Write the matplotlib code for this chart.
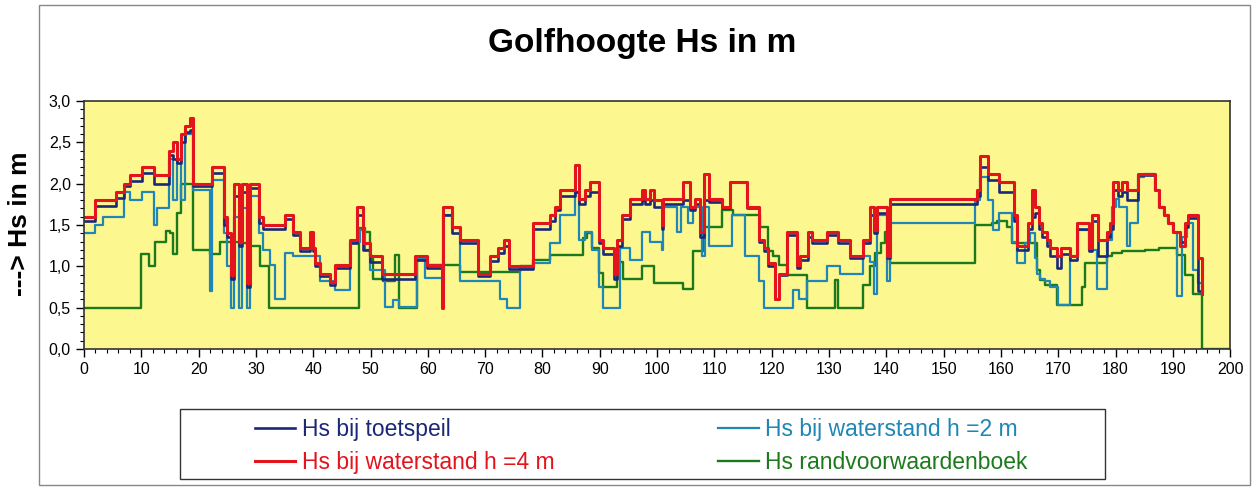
import matplotlib
matplotlib.use("Agg")
from matplotlib import pyplot as plt
from matplotlib.patches import Rectangle
from matplotlib.ticker import MultipleLocator

# section starts (km) shared by toetspeil and h=4 m, with their Hs values
x_tp = [0.0, 2.0, 5.5, 7.0, 8.1, 10.2, 12.2, 14.8, 15.6, 16.3, 17.0, 17.6, 18.5, 19.1,
        21.9, 22.3, 24.4, 24.9, 25.6, 26.2, 27.1, 27.6, 28.5, 29.0, 30.5, 31.3, 35.1,
        36.5, 37.7, 39.4, 39.9, 40.3, 41.2, 43.0, 43.8, 46.4, 47.7, 48.6, 49.9, 52.0,
        57.8, 59.8, 62.4, 62.7, 64.2, 65.6, 68.8, 70.9, 72.3, 73.2, 74.1, 78.4, 81.3,
        82.2, 83.1, 85.7, 86.4, 87.4, 88.3, 89.8, 90.6, 92.4, 93.0, 93.8, 95.3, 97.3,
        97.9, 98.8, 99.4, 100.8, 101.1, 104.6, 105.8, 106.6, 107.5, 108.1, 109.0, 111.3,
        112.7, 115.7, 117.7, 118.6, 119.4, 120.6, 121.2, 122.6, 124.4, 125.0, 126.4,
        127.0, 129.6, 131.6, 133.7, 136.0, 137.2, 137.8, 138.3, 140.1, 140.7, 155.8,
        156.4, 157.8, 159.6, 162.2, 162.8, 164.8, 165.4, 166.0, 166.6, 167.1, 168.0,
        168.6, 169.8, 170.4, 172.1, 173.2, 175.3, 175.9, 177.0, 178.5, 179.1, 179.6,
        180.5, 181.1, 182.0, 184.0, 186.9, 187.5, 188.4, 189.2, 190.1, 191.3, 192.1,
        192.7, 194.4, 195.1]

hs_h4 = [1.60, 1.80, 1.90, 2.00, 2.10, 2.20, 2.10, 2.40, 2.50, 2.30, 2.60, 2.70, 2.80, 2.00,
         2.00, 2.20, 1.60, 1.40, 0.90, 2.00, 1.30, 2.00, 0.80, 2.00, 1.60, 1.50, 1.62,
         1.42, 1.22, 1.42, 1.22, 1.04, 0.91, 0.81, 1.02, 1.32, 1.72, 1.28, 1.12, 0.91,
         1.12, 1.02, 0.50, 1.72, 1.48, 1.32, 0.91, 1.12, 1.22, 1.32, 1.00, 1.52, 1.62,
         1.72, 1.92, 2.22, 1.82, 1.92, 2.02, 1.32, 1.22, 0.91, 1.32, 1.62, 1.82, 1.92,
         1.82, 1.92, 1.80, 1.50, 1.82, 2.02, 1.72, 1.82, 1.42, 2.12, 1.82, 1.72,
         2.02, 1.72, 1.32, 1.22, 1.04, 0.61, 0.91, 1.42, 1.02, 1.12, 1.42,
         1.32, 1.42, 1.32, 1.12, 1.32, 1.72, 1.44, 1.72, 1.12, 1.82, 1.92,
         2.33, 2.12, 2.02, 1.62, 1.24, 1.52, 1.92, 1.72, 1.52, 1.42, 1.32,
         1.22, 1.12, 1.22, 1.12, 1.52, 1.22, 1.62, 1.32, 1.42, 1.52, 2.02,
         1.92, 2.02, 1.92, 2.12, 1.92, 1.72, 1.62, 1.52, 1.42, 1.24, 1.52,
         1.62, 1.10, 0.67]

hs_toets = [1.55, 1.73, 1.83, 1.97, 2.03, 2.13, 2.00, 2.35, 2.30, 2.25, 2.50, 2.62, 2.65, 1.97,
            1.97, 2.13, 1.50, 1.35, 0.85, 1.85, 1.25, 1.90, 0.75, 1.95, 1.52, 1.45, 1.57,
            1.38, 1.18, 1.35, 1.18, 1.00, 0.88, 0.78, 0.98, 1.28, 1.62, 1.20, 1.05, 0.85,
            1.08, 0.98, 0.60, 1.62, 1.40, 1.28, 0.88, 1.06, 1.16, 1.25, 0.97, 1.45, 1.55,
            1.68, 1.85, 1.90, 1.75, 1.85, 1.90, 1.28, 1.15, 0.85, 1.25, 1.57, 1.76, 1.80,
            1.76, 1.80, 1.72, 1.45, 1.76, 1.80, 1.68, 1.76, 1.35, 1.80, 1.78, 1.70,
            2.02, 1.70, 1.30, 1.18, 1.00, 0.61, 0.90, 1.38, 0.98, 1.08, 1.35,
            1.28, 1.38, 1.28, 1.10, 1.28, 1.62, 1.40, 1.65, 1.10, 1.75, 1.85,
            2.20, 2.05, 1.90, 1.55, 1.20, 1.45, 1.60, 1.65, 1.45, 1.35, 1.25,
            1.12, 0.98, 1.15, 1.08, 1.45, 1.18, 1.55, 1.12, 1.35, 1.45, 1.92,
            1.85, 1.90, 1.80, 2.10, 1.92, 1.72, 1.62, 1.52, 1.42, 1.30, 1.48,
            1.58, 0.70, 0.67]

x_h2 = [0.0, 2.0, 3.3, 7.0, 8.1, 10.2, 12.2, 12.8, 14.8, 15.6, 16.3, 17.0, 17.6, 19.1,
        21.9, 22.3, 24.4, 24.9, 25.6, 26.2, 27.1, 27.6, 28.5, 29.0, 30.5, 31.3, 32.5,
        33.3, 35.1, 36.5, 41.2, 43.8, 46.4, 48.2, 49.0, 49.9, 52.5, 54.0, 54.9, 58.1,
        59.5, 62.7, 64.2, 65.6, 72.6, 73.8, 76.1, 78.4, 81.3, 83.1, 85.7, 86.4, 87.4,
        88.6, 89.8, 90.6, 93.5, 95.3, 97.3, 98.8, 100.8, 101.1, 103.4, 104.2, 105.4,
        106.3, 107.8, 108.4, 109.0, 113.0, 115.4, 117.7, 118.6, 123.8, 124.7, 126.1,
        129.6, 131.9, 136.0, 137.2, 137.8, 138.3, 140.1, 140.7, 155.5, 156.4, 157.8,
        158.7, 159.6, 162.0, 162.8, 164.2, 165.0, 166.0, 166.3, 166.8, 167.7, 168.6,
        170.0, 172.1, 173.5, 175.3, 176.7, 178.5, 179.4, 180.0, 180.6, 182.0, 182.6,
        184.0, 185.0, 186.9, 187.5, 188.4, 189.2, 190.1, 190.7, 191.6, 192.5, 193.6,
        194.4, 195.1]

hs_h2 = [1.40, 1.50, 1.60, 1.90, 1.80, 1.90, 1.50, 1.70, 2.30, 1.80, 2.30, 1.80, 2.60, 1.92,
         0.70, 2.05, 1.40, 1.00, 0.50, 1.60, 0.50, 1.70, 0.50, 1.85, 1.40, 1.20, 1.02,
         0.61, 1.16, 1.12, 0.82, 0.71, 1.30, 1.44, 1.20, 0.96, 0.51, 0.59, 0.51, 1.10,
         0.86, 1.62, 1.46, 0.82, 0.61, 0.50, 0.98, 1.04, 1.28, 1.62, 1.90, 1.32, 1.42,
         1.20, 0.75, 0.50, 1.22, 1.08, 1.42, 1.30, 1.20, 1.72, 1.42, 1.72, 1.52,
         1.72, 1.12, 1.72, 1.24, 1.62, 1.12, 0.82, 0.50, 0.71, 0.60, 0.82,
         1.00, 0.91, 1.12, 1.05, 0.67, 1.62, 0.82, 1.52, 1.80, 2.08, 1.80,
         1.44, 1.64, 1.30, 1.04, 1.28, 1.40, 1.10, 0.91, 0.85, 0.82, 0.75,
         0.53, 1.12, 1.44, 1.20, 0.73, 1.32, 1.72, 1.82, 1.72, 1.24, 1.52,
         2.08, 2.12, 1.92, 1.72, 1.62, 1.52, 1.42, 0.64, 1.36, 1.52, 0.95,
         0.80, 0.67]

x_rvw = [0.0, 10.0, 11.3, 12.3, 14.3, 15.0, 15.5, 16.3, 17.0, 19.1, 22.0, 23.7, 27.2, 29.0,
         30.7, 32.2, 47.9, 49.0, 49.9, 50.5, 52.2, 54.3, 54.9, 58.1, 59.8, 65.6, 76.1,
         78.4, 81.3, 87.1, 87.7, 88.6, 89.8, 90.6, 93.0, 94.0, 97.3, 99.4, 104.6, 106.3,
         108.1, 111.3, 113.3, 118.0, 119.4, 120.3, 121.2, 122.6, 126.1, 131.1, 131.6,
         136.0, 137.2, 138.1, 139.0, 139.8, 140.7, 155.5, 158.4, 159.3, 161.0, 161.9,
         166.3, 166.8, 167.7, 169.8, 174.1, 174.7, 178.5, 179.4, 181.1, 185.2, 187.5,
         190.7, 192.1, 193.6, 195.1, 200.0]

hs_rvw = [0.50, 1.15, 1.00, 1.30, 1.43, 1.40, 1.15, 1.65, 2.00, 1.20, 1.15, 1.30, 1.28, 1.24,
          1.00, 0.50, 1.46, 1.42, 1.12, 0.85, 0.82, 1.14, 0.50, 1.08, 1.02, 0.93, 1.00,
          1.08, 1.14, 1.34, 1.40, 1.22, 0.92, 0.75, 1.05, 0.85, 1.00, 0.80, 0.73, 1.18,
          1.48, 1.68, 1.62, 1.48, 1.18, 1.12, 1.02, 0.90, 0.50, 0.83, 0.50,
          0.77, 1.00, 1.16, 1.28, 1.42, 1.04, 1.50, 1.52, 1.55, 1.48, 1.28,
          0.96, 0.83, 0.77, 0.53, 0.75, 1.04, 1.12, 1.16, 1.18, 1.20, 1.22,
          1.14, 0.90, 0.67, 0.00, 0.00]

ytick_vals = [0.0, 0.5, 1.0, 1.5, 2.0, 2.5, 3.0]
ytick_labels = ["0,0", "0,5", "1,0", "1,5", "2,0", "2,5", "3,0"]
xtick_vals = list(range(0, 201, 10))

c_toets = "#1b2878"
c_h2 = "#1f86b6"
c_h4 = "#e3141c"
c_rvw = "#1c7a1c"

plt.rcParams["font.family"] = ["Liberation Sans", "DejaVu Sans"]

fig = plt.figure(figsize=(12.54, 4.87), dpi=100)
ax = fig.add_axes([0.067, 0.2834, 0.914, 0.5092])
ax.set_facecolor("#fcf78e")

l_rvw, = ax.plot(x_rvw, hs_rvw, drawstyle="steps-post", color=c_rvw, lw=1.7)
l_h2, = ax.plot(x_h2, hs_h2, drawstyle="steps-post", color=c_h2, lw=1.6)
l_toets, = ax.plot(x_tp, hs_toets, drawstyle="steps-post", color=c_toets, lw=1.9)
l_h4, = ax.plot(x_tp, hs_h4, drawstyle="steps-post", color=c_h4, lw=2.2)

ax.set_xlim(0, 200)
ax.set_ylim(0, 3.0)
ax.set_xticks(xtick_vals)
ax.set_yticks(ytick_vals)
ax.set_yticklabels(ytick_labels)
ax.xaxis.set_minor_locator(MultipleLocator(2))
ax.yaxis.set_minor_locator(MultipleLocator(0.1))
ax.tick_params(which="major", direction="out", length=6, width=1, labelsize=11.5)
ax.tick_params(which="minor", direction="out", length=3, width=0.8)
for s in ax.spines.values():
    s.set_color("#333333")
    s.set_linewidth(1.2)

fig.text(0.512, 0.91, "Golfhoogte Hs in m", ha="center", va="center",
         fontsize=24, fontweight="bold")
fig.text(0.016, 0.54, "---> Hs in m", ha="center", va="center", rotation=90,
         fontsize=19, fontweight="bold")

# outer frame and legend box
fig.add_artist(Rectangle((0.031, 0.004), 0.966, 0.985, transform=fig.transFigure,
                         fill=False, ec="#888888", lw=1.0))
fig.add_artist(Rectangle((0.1435, 0.0164), 0.7375, 0.1437, transform=fig.transFigure,
                         fill=False, ec="#333333", lw=1.0))

leg = fig.legend([l_toets, l_h4, l_h2, l_rvw],
                 ["Hs bij toetspeil", "Hs bij waterstand h =4 m",
                  "Hs bij waterstand h =2 m", "Hs randvoorwaardenboek"],
                 ncol=2, loc="center left", bbox_to_anchor=(0.2033, 0.0842),
                 frameon=False, fontsize=16.5, handlelength=1.75, handletextpad=0.3,
                 columnspacing=7.15, labelspacing=0.4, borderpad=0, borderaxespad=0)
for txt, col in zip(leg.get_texts(), [c_toets, c_h4, c_h2, c_rvw]):
    txt.set_color(col)

fig.savefig("out.png", dpi=100)
